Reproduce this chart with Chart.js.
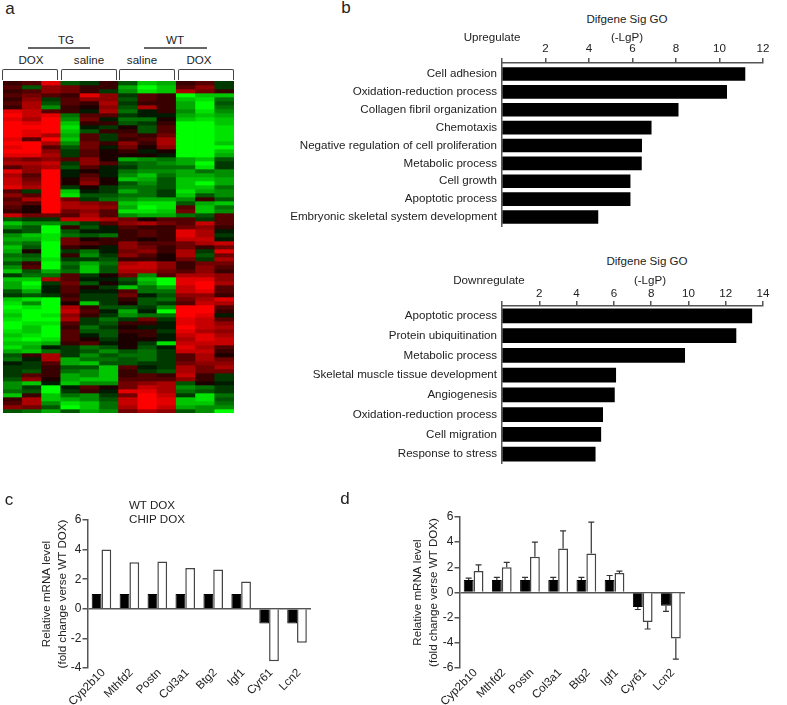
<!DOCTYPE html>
<html>
<head>
<meta charset="utf-8">
<script src="https://cdn.jsdelivr.net/npm/chart.js@4"></script>
<style>
  body { margin: 0; background: #fff; width: 787px; height: 705px; position: relative; overflow: hidden;
         font-family: "Liberation Sans", Arial, sans-serif; color: #222; }
  canvas { position: absolute; }
  #heat { background: #000; }
  .note { position: absolute; font-size: 11.6px; white-space: nowrap; transform: translate(-50%, -50%); }
  .letter { font-size: 17px; }
  .bracket { position: absolute; top: 69px; height: 11px; border: 1px solid #444; border-bottom: 0; box-sizing: border-box; border-radius: 2px 2px 0 0; }
  .rule { position: absolute; top: 47px; height: 2px; background: #666; }
</style>
</head>
<body>
<canvas id="heat" width="231" height="332" style="left:3px;top:81px"></canvas>
<canvas id="up" width="510" height="187" style="left:270px;top:40px"></canvas>
<canvas id="down" width="510" height="184" style="left:270px;top:280px"></canvas>
<canvas id="panelC" width="325" height="200" style="left:0;top:505px"></canvas>
<canvas id="panelD" width="387" height="205" style="left:400px;top:500px"></canvas>

<script>
// panel a, one row per line, -9 (full green) to 9 (full red)
const heatColumns = ['DOX 1', 'DOX 2', 'DOX 3', 'saline 1', 'saline 2', 'saline 3', 'saline 4', 'saline 5', 'saline 6', 'DOX 4', 'DOX 5', 'DOX 6'];
const heatRows = [
  [2,3,8,-3,-2,2,-3,-7,-6,2,3,-2],
  [3,-3,5,4,2,2,-6,-9,-7,3,5,-2],
  [2,3,5,4,2,-2,-5,-8,-7,6,4,2],
  [3,4,3,2,8,5,-2,3,2,-9,-7,-7],
  [2,5,-2,3,5,5,-3,3,2,-7,-8,-4],
  [3,6,-3,3,2,6,-2,2,2,-6,-9,-3],
  [2,6,-5,2,1,5,-3,6,2,-6,-9,-4],
  [8,7,3,2,-1,6,-4,-1,2,-5,-8,-5],
  [9,7,8,-4,3,3,-2,-1,-1,-6,-7,-6],
  [8,6,9,-5,4,-1,-4,-4,1,-7,-8,-7],
  [9,8,9,-7,2,2,-3,-2,2,-9,-9,-7],
  [9,9,9,-8,-1,-2,1,-3,3,-9,-9,-8],
  [9,8,9,-7,-3,2,2,-3,3,-9,-9,-8],
  [9,8,6,-6,3,-2,3,2,4,-9,-9,-8],
  [8,3,9,-7,3,-2,2,3,6,-9,-9,-8],
  [9,9,6,-5,4,2,5,2,6,-9,-9,-7],
  [8,9,3,-3,4,-1,4,1,5,-9,-9,-9],
  [9,9,5,-2,3,1,2,-1,1,-9,-9,-7],
  [8,8,6,-2,3,1,1,1,-1,-9,-9,-6],
  [5,4,5,3,5,1,-6,-5,-4,-6,-7,-3],
  [6,6,7,-2,5,3,-3,-4,-5,-6,-9,-2],
  [3,5,6,-3,3,-1,-2,-4,-4,-4,-8,-2],
  [8,5,9,-1,1,-1,-4,-5,-5,-6,-4,-5],
  [6,3,9,-1,3,-1,-5,-7,-4,-6,-6,-5],
  [7,4,9,1,4,1,-7,-6,-3,-7,-7,-6],
  [7,5,9,1,5,1,-3,-5,-3,-7,-9,-6],
  [8,6,9,-2,1,-2,-4,-4,-3,-7,-7,-4],
  [3,-2,9,-7,-1,-2,-6,-4,-2,-8,-6,-5],
  [5,3,9,-8,-3,-3,-4,-4,-2,-7,-3,-5],
  [3,6,9,4,-2,-4,-5,-6,-6,-5,2,-3],
  [4,3,9,6,5,4,-7,-8,-8,-3,-6,-7],
  [3,1,9,6,6,5,-6,-9,-8,3,-7,-4],
  [2,1,9,4,5,3,-8,-8,-7,4,-7,-5],
  [7,4,4,3,6,3,-5,-6,-6,-4,-3,3],
  [-3,-2,-2,7,7,6,4,1,3,3,-2,3],
  [-7,-5,-5,-4,-2,3,5,6,4,3,7,3],
  [-5,-3,-9,2,-3,-1,3,2,2,4,5,2],
  [-2,-3,-9,-3,-1,-1,2,3,2,8,6,-1],
  [-5,-7,-8,-4,-3,-4,2,3,2,8,6,-2],
  [-6,-6,-8,4,1,2,2,1,2,7,7,-1],
  [-5,-4,-9,4,3,2,5,3,3,4,6,7],
  [-7,-3,-9,2,1,-1,5,4,2,4,2,4],
  [-6,1,-9,-2,-4,-1,4,5,2,6,-2,8],
  [-4,-3,-9,2,-5,-2,5,3,1,6,-3,4],
  [-5,-4,-8,-2,-2,-3,2,2,1,4,-2,6],
  [-3,2,-9,-4,-6,-4,6,7,5,2,4,4],
  [-5,3,-9,-3,-7,-3,7,7,5,2,5,3],
  [-7,-3,-6,-4,-7,-3,6,6,4,3,5,2],
  [-2,-4,-4,3,-2,1,4,-5,3,6,6,5],
  [-7,-7,6,3,-1,-1,-3,-7,-9,8,8,5],
  [-6,-9,-2,4,-3,1,-2,-6,-9,8,9,6],
  [-6,-8,-1,3,1,-2,-7,-4,-6,7,9,3],
  [-3,-6,-1,3,-1,-1,3,-4,-4,7,8,3],
  [-2,-3,-2,2,-2,-2,4,-1,-3,5,5,2],
  [-7,-8,-9,3,-2,-2,2,-3,-4,4,6,8],
  [-8,-5,-9,1,-7,-2,1,-3,-2,3,7,6],
  [-9,-8,-9,6,2,-3,-3,-2,-5,9,9,3],
  [-8,-9,-9,7,3,-1,-6,-1,-9,9,9,2],
  [-7,-9,-8,5,2,-2,-5,-4,-4,9,8,-1],
  [-8,-9,-9,6,-2,-4,-2,4,-2,8,7,3],
  [-9,-8,-8,3,-2,-3,2,2,-1,8,7,5],
  [-9,-7,-9,2,-4,-2,1,-1,-1,9,7,6],
  [-8,-7,-9,3,-3,-3,2,2,-2,8,6,5],
  [-7,-8,-9,3,-1,-3,1,2,-1,7,8,6],
  [-8,-9,-8,3,1,-2,1,1,-1,6,8,7],
  [-7,-7,-6,2,3,-1,1,-2,-8,7,7,7],
  [-8,-6,-1,-2,-4,-3,1,-3,-1,8,6,3],
  [-6,-7,-4,-2,-3,-5,-3,-4,-2,7,7,2],
  [-3,2,6,-2,-5,-3,-4,-4,-2,3,6,1],
  [-4,-1,6,-6,-4,-4,-3,-4,-2,3,6,4],
  [-1,-2,3,-6,-7,-3,-3,-2,-2,4,5,5],
  [-2,-2,2,-3,-3,-7,3,-1,-2,6,4,6],
  [-2,-3,2,-4,-5,-7,2,-2,-3,6,4,4],
  [-2,3,2,-6,-5,-7,2,3,2,7,2,-2],
  [-3,5,1,-6,-7,-7,3,3,3,5,2,-2],
  [-5,-7,-1,-7,-5,-5,4,5,6,-3,1,-1],
  [-5,-2,-9,-1,3,1,4,7,6,-5,-4,-2],
  [-4,-3,-9,-2,2,-1,8,8,6,-4,-3,-2],
  [-7,2,-7,-4,-5,-2,4,9,7,-2,-8,-4],
  [2,6,-7,-6,-5,-3,7,9,8,-7,-8,-3],
  [3,6,-5,-8,-7,-4,7,9,8,-7,-7,-4],
  [5,4,-3,-9,-7,-4,6,9,7,-6,-5,-5],
  [-3,-4,-6,-3,-6,-5,4,6,5,-3,-5,-9]
];

// panel b
const upTerms = ['Cell adhesion', 'Oxidation-reduction process', 'Collagen fibril organization', 'Chemotaxis', 'Negative regulation of cell proliferation', 'Metabolic process', 'Cell growth', 'Apoptotic process', 'Embryonic skeletal system development'];
const upValues = [11.17, 10.33, 8.1, 6.86, 6.42, 6.41, 5.89, 5.89, 4.41];
const downTerms = ['Apoptotic process', 'Protein ubiquitination', 'Metabolic process', 'Skeletal muscle tissue development', 'Angiogenesis', 'Oxidation-reduction process', 'Cell migration', 'Response to stress'];
const downValues = [13.4, 12.55, 9.8, 6.1, 6.03, 5.4, 5.3, 5.0];

// panels c and d
const genes = ['Cyp2b10', 'Mthfd2', 'Postn', 'Col3a1', 'Btg2', 'Igf1', 'Cyr61', 'Lcn2'];
const cWtDox = [1, 1, 1, 1, 1, 1, -1, -1];
const cChipDox = [4.0, 3.15, 3.2, 2.75, 2.65, 1.85, -3.55, -2.3];
const dWtDox = [1, 1, 1, 1, 1, 1, -1.15, -1.05];
const dWtErrorEnd = [1.15, 1.2, 1.2, 1.2, 1.2, 1.35, -1.35, -1.5];
const dChipDox = [1.7, 2.0, 2.85, 3.5, 3.1, 1.55, -2.35, -3.65];
const dChipErrorEnd = [2.2, 2.4, 4.0, 4.9, 5.6, 1.7, -2.9, -5.3];

const axisColor = '#555';
const textColor = '#222';
Chart.defaults.font.family = '"Liberation Sans", Arial, sans-serif';
Chart.defaults.font.size = 11.6;
Chart.defaults.color = textColor;
Chart.defaults.animation = false;
Chart.defaults.responsive = false;
Chart.defaults.plugins.legend.display = false;
Chart.defaults.plugins.tooltip.enabled = false;

function note(text, x, y, cls) {
  const el = document.createElement('div');
  el.className = 'note' + (cls ? ' ' + cls : '');
  el.textContent = text;
  el.style.left = x + 'px';
  el.style.top = y + 'px';
  document.body.appendChild(el);
}

function heatColor(v) {
  const level = Math.round(Math.abs(v) * 255 / 9);
  return v > 0 ? `rgb(${level},0,0)` : `rgb(0,${level},0)`;
}

new Chart(document.getElementById('heat'), {
  type: 'bar',
  data: {
    labels: heatColumns,
    // each row is one unit tall, the value goes into the colour
    datasets: heatRows.map(row => ({
      data: row.map(() => 1),
      backgroundColor: row.map(heatColor),
      borderWidth: 0,
      categoryPercentage: 1,
      barPercentage: 1,
    })),
  },
  options: {
    layout: { padding: 0 },
    scales: {
      x: { display: false, stacked: true },
      y: { display: false, stacked: true, reverse: true, min: 0, max: heatRows.length },
    },
  },
});

// horizontal bars, the index axis is linear so the bars can sit clear of the top axis
function goChart(id, terms, values, maxX, indexMin, indexMax, thickness, axisHeight, tickPad) {
  new Chart(document.getElementById(id), {
    type: 'bar',
    data: {
      datasets: [{
        data: values.map((v, i) => ({ x: v, y: i })),
        backgroundColor: '#000',
        borderWidth: 0,
        barThickness: thickness,
      }],
    },
    options: {
      indexAxis: 'y',
      layout: { padding: { right: 17 } },
      scales: {
        x: {
          position: 'top',
          min: 0,
          max: maxX,
          ticks: { stepSize: 2, padding: tickPad, callback: v => (v === 0 ? '' : v) },
          grid: { drawOnChartArea: false, tickLength: 5, color: axisColor, lineWidth: 1.5 },
          border: { color: axisColor, width: 1.5 },
          afterFit: s => { s.height = axisHeight; },
        },
        y: {
          type: 'linear',
          reverse: true,
          offset: false,
          afterBuildTicks: s => {
            s.ticks = terms.map((t, i) => ({ value: i }));
            s.min = indexMin;
            s.max = indexMax;
          },
          ticks: { autoSkip: false, padding: 5, callback: v => terms[v] },
          grid: { display: false, drawTicks: false, tickLength: 0 },
          border: { color: axisColor, width: 1.5 },
          afterFit: s => { s.width = 232; s.paddingTop = 0; s.paddingBottom = 0; },
        },
      },
    },
  });
}

goChart('up', upTerms, upValues, 12, -0.615, 8.56, 13, 23, 2);
goChart('down', downTerms, downValues, 14, -0.5, 7.5, 14, 26, 0);

const errorBars = {
  id: 'errorBars',
  afterDatasetsDraw(chart) {
    const { ctx } = chart;
    const yScale = chart.scales.y;
    ctx.save();
    ctx.strokeStyle = '#333';
    ctx.lineWidth = 1.2;
    chart.data.datasets.forEach((ds, i) => {
      if (!ds.errorEnd) return;
      chart.getDatasetMeta(i).data.forEach((bar, j) => {
        const y0 = yScale.getPixelForValue(ds.data[j]);
        const y1 = yScale.getPixelForValue(ds.errorEnd[j]);
        ctx.beginPath();
        ctx.moveTo(bar.x, y0);
        ctx.lineTo(bar.x, y1);
        ctx.moveTo(bar.x - 3, y1);
        ctx.lineTo(bar.x + 3, y1);
        ctx.stroke();
      });
    });
    ctx.restore();
  },
};

function geneChart(id, wt, chip, yMin, yMax, yWidth, titlePad, topPad, rightPad, wtErr, chipErr) {
  new Chart(document.getElementById(id), {
    type: 'bar',
    data: {
      labels: genes,
      datasets: [
        { label: 'WT DOX', data: wt, errorEnd: wtErr, backgroundColor: '#000', borderColor: '#000', borderWidth: 1 },
        { label: 'CHIP DOX', data: chip, errorEnd: chipErr, backgroundColor: '#fff', borderColor: '#444', borderWidth: 1.5 },
      ],
    },
    plugins: [errorBars],
    options: {
      layout: { padding: { top: topPad, right: rightPad } },
      datasets: { bar: { categoryPercentage: 0.7, barPercentage: 1 } },
      scales: {
        x: {
          ticks: { autoSkip: false, minRotation: 45, maxRotation: 45, padding: -2, labelOffset: 2 },
          grid: { display: false, drawTicks: false, tickLength: 0 },
          border: { display: false },
          afterFit: s => { s.height = 37; },
        },
        y: {
          min: yMin,
          max: yMax,
          ticks: { stepSize: 2, padding: 1, font: { size: 12 } },
          title: {
            display: true,
            text: ['Relative mRNA level', '(fold change verse WT DOX)'],
            padding: { top: titlePad, bottom: 0 },
            font: { size: 11.6, lineHeight: 1.34 },
            color: textColor,
          },
          grid: {
            color: c => (c.tick.value === 0 ? axisColor : 'rgba(0,0,0,0)'),
            tickColor: axisColor,
            tickLength: 5,
            lineWidth: 1.5,
          },
          border: { color: axisColor, width: 1.5 },
          afterFit: s => { s.width = yWidth; },
        },
      },
    },
  });
}

geneChart('panelC', cWtDox, cChipDox, -4, 6, 87.5, 39, 15, 14);
geneChart('panelD', dWtDox, dChipDox, -6, 6, 59.5, 10, 17, 102, dWtErrorEnd, dChipErrorEnd);

// text around the charts
note('a', 10, 9, 'letter');
note('b', 346, 8, 'letter');
note('c', 9, 500, 'letter');
note('d', 345, 499, 'letter');
note('TG', 66, 39);
note('WT', 175, 39);
note('DOX', 31, 59);
note('saline', 89, 59);
note('saline', 142, 59);
note('DOX', 199, 59);
note('Difgene Sig GO', 627, 18);
note('(-LgP)', 627, 36);
note('Upregulate', 492, 36);
note('Difgene Sig GO', 647, 260);
note('(-LgP)', 650, 279);
note('Downregulate', 489, 279);
note('WT DOX', 152, 504);
note('CHIP DOX', 157, 518);

[[2, 56], [61, 56], [119, 56], [178, 56]].forEach(([left, width]) => {
  const b = document.createElement('div');
  b.className = 'bracket';
  b.style.left = left + 'px';
  b.style.width = width + 'px';
  document.body.appendChild(b);
});
[[28, 62], [144, 63]].forEach(([left, width]) => {
  const r = document.createElement('div');
  r.className = 'rule';
  r.style.left = left + 'px';
  r.style.width = width + 'px';
  document.body.appendChild(r);
});
</script>
</body>
</html>
